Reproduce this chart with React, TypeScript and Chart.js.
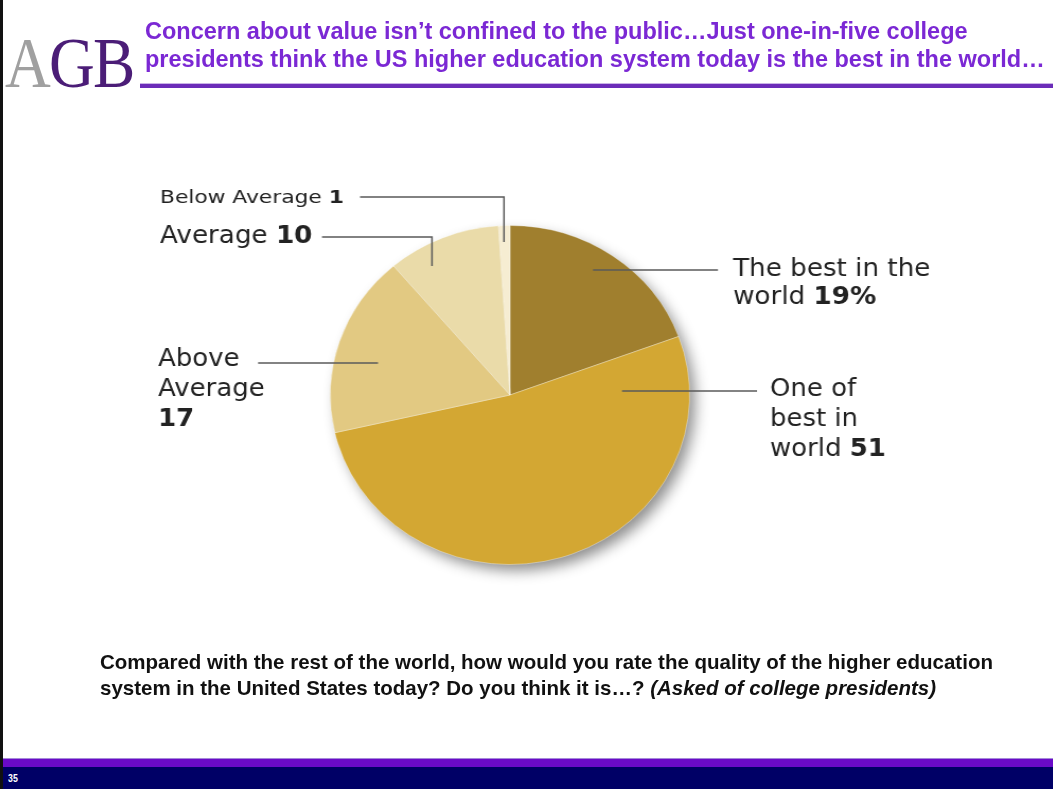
import React, { useEffect, useRef } from "react";
import { Chart, registerables } from "chart.js";

Chart.register(...registerables);

const categories = ["The best in the world", "One of best in world", "Above Average", "Average", "Below Average"];
const values = [19, 51, 17, 10, 1];
const valueSuffix = ["%", "", "", "", ""];
const sliceColors = ["#A07F2E", "#D3A733", "#E2C982", "#EADBA9", "#F6EDD2"];

// label text lines (value appended in bold on last line)
const labelLines = [
  ["The best in the", "world"],
  ["One of", "best in", "world"],
  ["Above", "Average", ""],
  ["Average"],
  ["Below Average"],
];

const titleLines = [
  "Concern about value isn\u2019t confined to the public\u2026Just one-in-five college",
  "presidents think the US higher education system today is the best in the world\u2026",
];
const captionLine1 = "Compared with the rest of the world, how would you rate the quality of the higher education";
const captionLine2 = "system in the United States today? Do you think it is\u2026?";
const captionItalic = "(Asked of college presidents)";
const pageNumber = "35";

// The slide is slightly stretched horizontally; the canvas is stretched by this factor around the pie centre.
const STRETCH = 1.06;
const CX = 510;

// label layout, relative to pie centre (canvas units): text position, font size, x-scale, line height, leader polyline
const labelLayout = [
  { x: 210.4, y: -125, size: 24, sx: 1.03, lh: 28, line: [[196.2, -125], [78.3, -125]] },
  { x: 245.3, y: -5, size: 24, sx: 1.02, lh: 30, line: [[233, -4], [105.7, -4]] },
  { x: -332, y: -35, size: 24, sx: 1.02, lh: 30, line: [[-237.7, -32], [-124.5, -32]] },
  { x: -330.2, y: -158, size: 24, sx: 1.03, lh: 28, line: [[-177.4, -158], [-73.6, -158], [-73.6, -129]] },
  { x: -330.2, y: -197, size: 18.5, sx: 1.11, lh: 20, line: [[-141.5, -198], [-5.7, -198], [-5.7, -153]] },
];

const FONT = "'DejaVu Sans', Verdana, sans-serif";

const shadowPlugin = {
  id: "pieShadow",
  beforeDatasetsDraw(chart: any) {
    const meta = chart.getDatasetMeta(0);
    const arc = meta.data[0];
    if (!arc) return;
    const { x, y, outerRadius } = arc.getProps(["x", "y", "outerRadius"], true);
    const ctx = chart.ctx;
    ctx.save();
    ctx.shadowColor = "rgba(0,0,0,0.45)";
    ctx.shadowBlur = 14;
    ctx.shadowOffsetX = 6;
    ctx.shadowOffsetY = 7;
    ctx.fillStyle = "#C9A84A";
    ctx.beginPath();
    ctx.arc(x, y, outerRadius - 1, 0, Math.PI * 2);
    ctx.fill();
    ctx.restore();
  },
};

const labelPlugin = {
  id: "pieLabels",
  afterDraw(chart: any) {
    const meta = chart.getDatasetMeta(0);
    const arc = meta.data[0];
    if (!arc) return;
    const { x: cx, y: cy } = arc.getProps(["x", "y"], true);
    const ctx = chart.ctx;
    ctx.save();
    labelLayout.forEach((L, i) => {
      // leader line
      ctx.strokeStyle = "#5a5a5a";
      ctx.lineWidth = 1.5;
      ctx.beginPath();
      L.line.forEach((p, j) => {
        const px = cx + p[0];
        const py = cy + p[1];
        if (j === 0) ctx.moveTo(px, py);
        else ctx.lineTo(px, py);
      });
      ctx.stroke();
      // text
      ctx.textBaseline = "middle";
      ctx.textAlign = "left";
      ctx.fillStyle = "#222";
      const lines = labelLines[i];
      lines.forEach((t, k) => {
        const tx = cx + L.x;
        const ty = cy + L.y + k * L.lh;
        ctx.save();
        ctx.translate(tx, ty);
        ctx.scale(L.sx, 1);
        ctx.font = `${L.size}px ${FONT}`;
        ctx.fillText(t, 0, 0);
        if (k === lines.length - 1) {
          const w = t ? ctx.measureText(t + " ").width : 0;
          ctx.font = `bold ${L.size}px ${FONT}`;
          ctx.fillText(String(values[i]) + valueSuffix[i], w, 0);
        }
        ctx.restore();
      });
    });
    ctx.restore();
  },
};

export default function App() {
  const ref = useRef<HTMLCanvasElement>(null);
  useEffect(() => {
    if (!ref.current) return;
    const chart = new Chart(ref.current, {
      type: "pie",
      data: {
        labels: categories,
        datasets: [
          {
            data: values,
            backgroundColor: sliceColors,
            borderColor: "rgba(255,255,255,0.35)",
            borderWidth: 1,
          },
        ],
      },
      options: {
        animation: false,
        responsive: false,
        maintainAspectRatio: false,
        layout: { padding: { left: 340, right: 373, top: 225, bottom: 224 } },
        plugins: { legend: { display: false }, tooltip: { enabled: false }, title: { display: false } },
      },
      plugins: [shadowPlugin, labelPlugin],
    });
    return () => chart.destroy();
  }, []);

  return (
    <div
      style={{
        position: "fixed",
        left: 0,
        top: 0,
        width: 1053,
        height: 789,
        background: "#fff",
        overflow: "hidden",
      }}
    >
      <canvas
        ref={ref}
        width={1053}
        height={789}
        style={{
          position: "absolute",
          left: 0,
          top: 0,
          transform: `scaleX(${STRETCH})`,
          transformOrigin: `${CX}px 0px`,
        }}
      />
      {/* left border */}
      <div style={{ position: "absolute", left: 0, top: 0, width: 3, height: 789, background: "#111" }} />
      {/* logo */}
      <div
        style={{
          position: "absolute",
          left: 5,
          top: 27,
          fontFamily: "'Liberation Serif', serif",
          fontSize: 72,
          lineHeight: "72px",
          letterSpacing: -2,
          whiteSpace: "nowrap",
          transform: "scaleX(0.88)",
          transformOrigin: "left",
        }}
      >
        <span style={{ color: "#a0a0a0" }}>A</span>
        <span style={{ color: "#4b1d77" }}>GB</span>
      </div>
      {/* title */}
      <div
        style={{
          position: "absolute",
          left: 145,
          top: 17,
          fontFamily: "'Liberation Sans', Arial, sans-serif",
          fontWeight: "bold",
          fontSize: 23.5,
          lineHeight: "28px",
          color: "#7B28D4",
          whiteSpace: "nowrap",
        }}
      >
        <div>{titleLines[0]}</div>
        <div>{titleLines[1]}</div>
      </div>
      {/* title rule */}
      <div style={{ position: "absolute", left: 140, top: 83, width: 913, height: 1, background: "#c9b3e6" }} />
      <div style={{ position: "absolute", left: 140, top: 84, width: 913, height: 4, background: "#6B2CB8" }} />
      {/* caption */}
      <div
        style={{
          position: "absolute",
          left: 100,
          top: 649,
          fontFamily: "'Liberation Sans', Arial, sans-serif",
          fontWeight: "bold",
          fontSize: 20.5,
          lineHeight: "26px",
          color: "#111",
          whiteSpace: "nowrap",
        }}
      >
        <div>{captionLine1}</div>
        <div>
          {captionLine2} <i>{captionItalic}</i>
        </div>
      </div>
      {/* footer */}
      <div style={{ position: "absolute", left: 3, top: 758, width: 1050, height: 1, background: "#a58ad8" }} />
      <div style={{ position: "absolute", left: 3, top: 759, width: 1050, height: 8, background: "#6A0AC8" }} />
      <div style={{ position: "absolute", left: 3, top: 767, width: 1050, height: 22, background: "#000066" }} />
      <div
        style={{
          position: "absolute",
          left: 8,
          top: 772,
          fontFamily: "'Liberation Sans', Arial, sans-serif",
          fontWeight: "bold",
          fontSize: 11,
          color: "#fff",
          transform: "scaleX(0.8)",
          transformOrigin: "left",
        }}
      >
        {pageNumber}
      </div>
    </div>
  );
}
